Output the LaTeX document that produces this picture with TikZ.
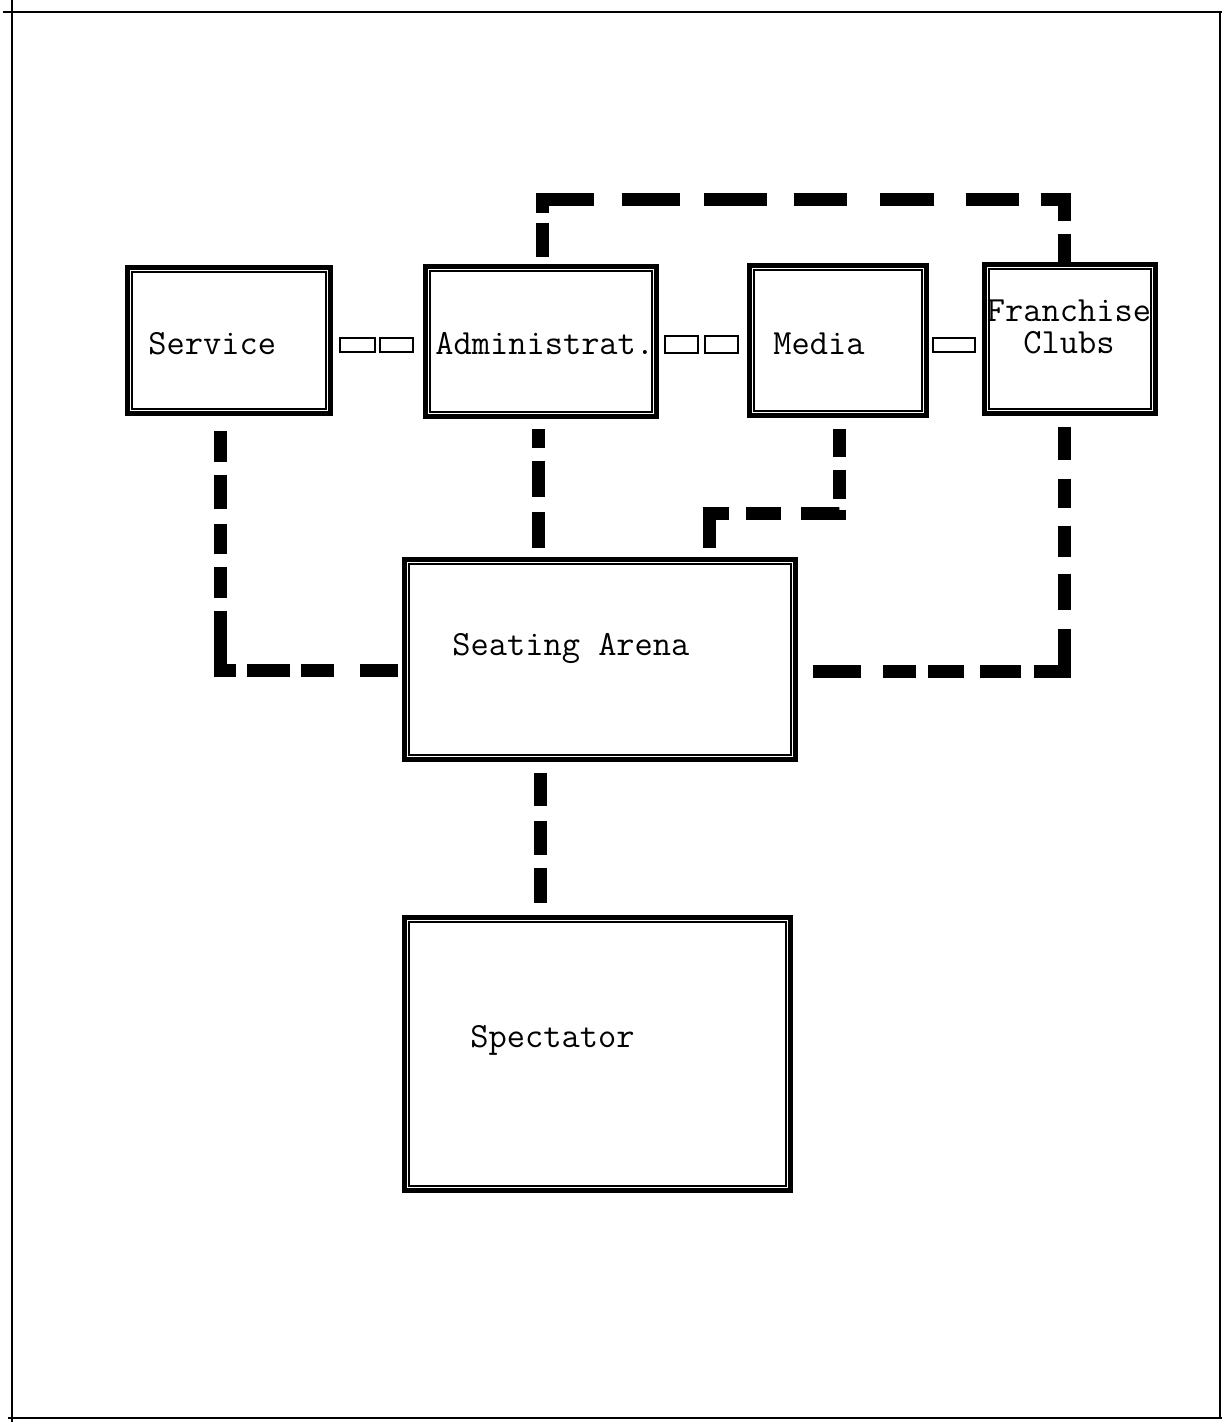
\documentclass[tikz,border=0pt]{standalone}
\begin{document}
\begin{tikzpicture}[x=0.5pt,y=-0.5pt,
  box/.style={draw, line width=2.5pt, rectangle, inner sep=0pt, fill=white},
  innerbox/.style={line width=0.8pt},
  lbl/.style={anchor=base west, inner sep=0pt, font=\fontsize{17.7pt}{20pt}\selectfont\ttfamily},
  lbltwo/.style={anchor=center, inner sep=0pt, align=center, font=\fontsize{17.7pt}{16pt}\selectfont\ttfamily},
  link/.style={line width=0.9pt},
  conn/.style={line width=6.5pt, line join=miter},
  frame/.style={line width=1.2pt}
]
\useasboundingbox (0,0) rectangle (1222,1422);
% frame
\draw[frame] (12,0) -- (12,1422);
\draw[frame] (3,12) -- (1222,12);
\draw[frame] (8,1418) -- (1222,1418);
\draw[frame] (1220,12) -- (1220,1418);

% boxes
\node[box, minimum width=101.5pt, minimum height=73pt] (srv) at (229,340.5) {};
\node[box, minimum width=115.5pt, minimum height=75pt] (adm) at (541,341.5) {};
\node[box, minimum width=88.5pt, minimum height=75pt] (med) at (838,340.5) {};
\node[box, minimum width=85.5pt, minimum height=74.5pt] (fr) at (1070,339) {};
\node[box, minimum width=195.5pt, minimum height=100pt] (seat) at (600,659.5) {};
\node[box, minimum width=193pt, minimum height=136.5pt] (spec) at (597.5,1054) {};
\foreach \n in {srv,adm,med,fr,seat,spec}
  \draw[innerbox] ([shift={(3.5pt,-3.5pt)}]\n.north west) rectangle ([shift={(-3.5pt,3.5pt)}]\n.south east);

% labels
\node[lbl] (srv-t) at (148,355) {Service};
\node[lbl] (adm-t) at (435,355) {Administrat.};
\node[lbl] (med-t) at (773,355) {Media};
\node[lbltwo] (fr-t) at (1069,327) {Franchise\\Clubs};
\node[lbl] (seat-t) at (452,655) {Seating Arena};
\node[lbl] (spec-t) at (470,1047) {Spectator};

% links between top boxes
\draw[link] (340,338) rectangle (375,352);
\draw[link] (380,338) rectangle (413,352);
\draw[link] (665,336) rectangle (698,353);
\draw[link] (705,336) rectangle (738,353);
\draw[link] (933,338) rectangle (975,352);

% dashed connectors
\coordinate (topy) at (800,200);
\draw[conn, dash pattern=on 0pt off 3.25pt on 17pt off 5pt on 32.5pt off 14pt on 29pt off 12pt on 31.5pt off 13.5pt on 26.5pt off 16.5pt on 27pt off 16pt on 26.5pt off 11pt on 22.5pt off 6.5pt on 14.5pt off 10pt]
  ([xshift=0.5pt]adm.north) |- (topy) -| ([xshift=-3pt]fr.north);

\draw[conn, dash pattern=on 0pt off 7.75pt on 15pt off 6.5pt on 17pt off 7.5pt on 15pt off 6.5pt on 15.5pt off 6.5pt on 37.5pt off 5.5pt on 21.5pt off 5.5pt on 16.5pt off 13pt on 19pt off 10pt]
  ([xshift=-4.5pt]srv.south) |- ([yshift=-5.25pt]seat.west);

\draw[conn, dash pattern=on 0pt off 5.25pt on 9pt off 6.5pt on 18pt off 7.5pt on 18pt off 10pt]
  ([xshift=-1.5pt]adm.south) -- ([xshift=-1.5pt]adm.south |- seat.north);

\coordinate (medy) at (770,513);
\draw[conn, dash pattern=on 0pt off 5.75pt on 13.5pt off 6.5pt on 14.5pt off 5.5pt on 21pt off 10pt on 17.5pt off 8.5pt on 27pt off 10pt]
  ([xshift=0.5pt]med.south) |- (medy) -| ([xshift=54.5pt]seat.north);

\draw[conn, dash pattern=on 0pt off 5.75pt on 16pt off 9.5pt on 14.5pt off 9pt on 15.5pt off 8.5pt on 18pt off 9.5pt on 36.5pt off 6.5pt on 20.5pt off 8pt on 18pt off 6pt on 16.5pt off 11pt on 24pt off 10pt]
  ([xshift=-3pt]fr.south) |- ([yshift=-5.75pt]seat.east);

\draw[conn, dash pattern=on 0pt off 5.25pt on 16.5pt off 7.5pt on 17pt off 6.5pt on 17.5pt off 10pt]
  ([xshift=-30pt]seat.south) -- ([xshift=-30pt]seat.south |- spec.north);
\end{tikzpicture}
\end{document}
